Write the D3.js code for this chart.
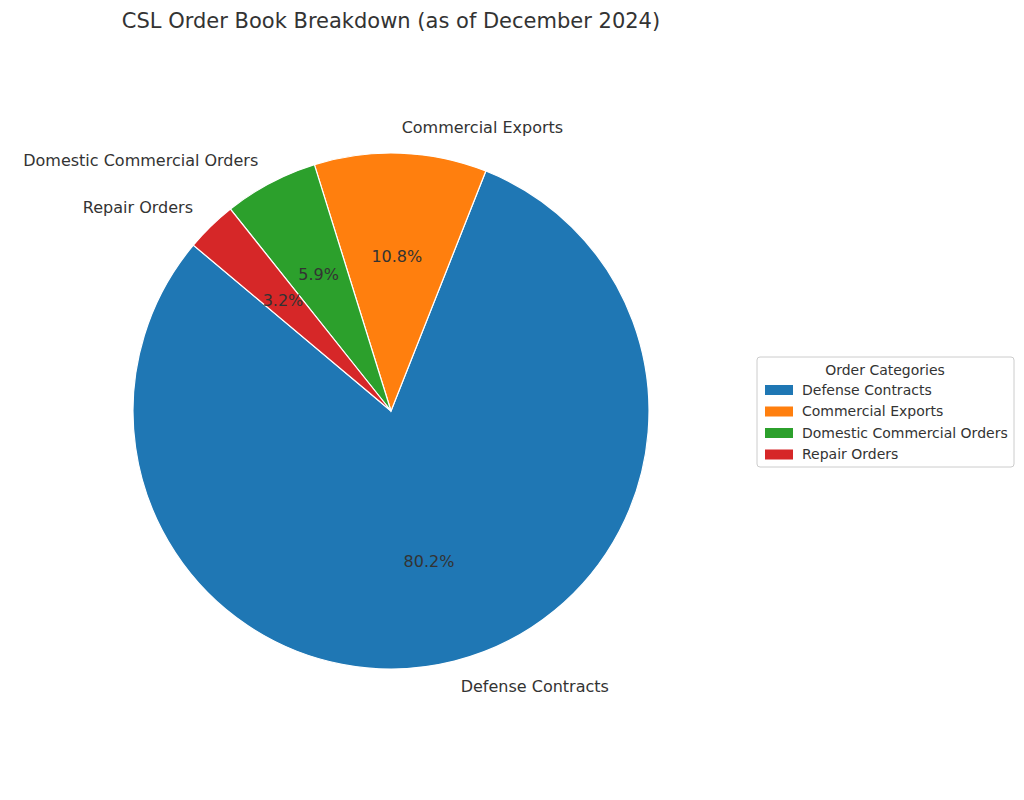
<!DOCTYPE html>
<html><head><meta charset="utf-8">
<script src="https://cdn.jsdelivr.net/npm/d3@7"></script>
<style>body{margin:0;background:#fff;font-family:"DejaVu Sans",sans-serif;}</style>
</head><body>
<script>
// Datos del gráfico
var categories = ["Defense Contracts", "Commercial Exports", "Domestic Commercial Orders", "Repair Orders"];
var shares = [80.2, 10.8, 5.9, 3.2];
var colors = ["#1f77b4", "#ff7f0e", "#2ca02c", "#d62728"];

var cx = 391, cy = 411, radius = 258;
var startDeg = 140; // ángulo inicial (matplotlib, antihorario)

var svg = d3.select("body").append("svg").attr("width", 1024).attr("height", 800);

svg.append("text").attr("x", 391).attr("y", 28).attr("text-anchor", "middle")
  .attr("font-size", 21).attr("fill", "#333")
  .text("CSL Order Book Breakdown (as of December 2024)");

var a0 = (90 - startDeg) * Math.PI / 180;
var pie = d3.pie().sort(null).value(function(d) { return d; })
  .startAngle(a0).endAngle(a0 - 2 * Math.PI);
var arcs = pie(shares);
var arc = d3.arc().innerRadius(0).outerRadius(radius);

var g = svg.append("g").attr("transform", "translate(" + cx + "," + cy + ")");
g.selectAll("path").data(arcs).enter().append("path")
  .attr("d", arc)
  .attr("fill", function(d, i) { return colors[i]; })
  .attr("stroke", "#fff").attr("stroke-width", 1.2);

function mid(d) { return (d.startAngle + d.endAngle) / 2; }

// Etiquetas exteriores
g.selectAll("text.lbl").data(arcs).enter().append("text")
  .attr("x", function(d) { return 1.1 * radius * Math.sin(mid(d)); })
  .attr("y", function(d) { return -1.1 * radius * Math.cos(mid(d)); })
  .attr("dy", "0.35em")
  .attr("text-anchor", function(d) { return Math.sin(mid(d)) > 0 ? "start" : "end"; })
  .attr("font-size", 16).attr("fill", "#333")
  .text(function(d, i) { return categories[i]; });

// Porcentajes
g.selectAll("text.pct").data(arcs).enter().append("text")
  .attr("x", function(d) { return 0.6 * radius * Math.sin(mid(d)); })
  .attr("y", function(d) { return -0.6 * radius * Math.cos(mid(d)); })
  .attr("dy", "0.35em").attr("text-anchor", "middle")
  .attr("font-size", 16).attr("fill", "#333")
  .text(function(d) { return d.data.toFixed(1) + "%"; });

// Leyenda
var lg = svg.append("g").attr("transform", "translate(757,357)");
lg.append("rect").attr("width", 257).attr("height", 110).attr("rx", 3)
  .attr("fill", "#fff").attr("stroke", "#ccc");
lg.append("text").attr("x", 128).attr("y", 18).attr("text-anchor", "middle")
  .attr("font-size", 14).attr("fill", "#333").text("Order Categories");
var items = lg.selectAll("g.item").data(categories).enter().append("g")
  .attr("transform", function(d, i) { return "translate(8," + (33 + i * 21.5) + ")"; });
items.append("rect").attr("width", 28).attr("height", 10).attr("y", -5)
  .attr("fill", function(d, i) { return colors[i]; });
items.append("text").attr("x", 37).attr("dy", "0.35em")
  .attr("font-size", 14).attr("fill", "#333").text(function(d) { return d; });
</script>
</body></html>
